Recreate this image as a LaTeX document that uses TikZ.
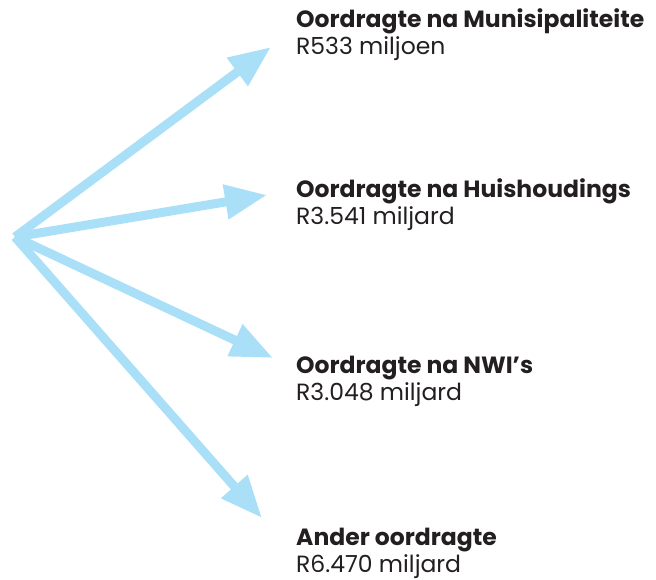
\documentclass[tikz,border=0pt]{standalone}
\usepackage{fontspec}
\setmainfont{Poppins}
\usetikzlibrary{arrows.meta}
\definecolor{arrowblue}{HTML}{AADFF8}
\definecolor{textdark}{HTML}{231F20}
\tikzset{
  flow/.style={draw=arrowblue, line width=9pt, -{Triangle[length=42pt,width=33pt]}},
  title/.style={anchor=base west, inner sep=0pt, text=textdark, font=\fontsize{23.5}{27}\selectfont\bfseries},
  value/.style={anchor=base west, inner sep=0pt, text=textdark, font=\fontsize{23.5}{27}\selectfont},
}
\begin{document}
\begin{tikzpicture}[x=1pt,y=-1pt]
\useasboundingbox (0,0) rectangle (656,580);
\coordinate (o) at (15,237);
\coordinate (t1) at (271,47);
\coordinate (t2) at (267,195);
\coordinate (t3) at (273,358);
\coordinate (t4) at (262,518);
\draw[flow] (o) -- (t1);
\draw[flow] (o) -- (t2);
\draw[flow] (o) -- (t3);
\draw[flow] (o) -- (t4);
\node[title] (h1) at (296,28) {Oordragte na Munisipaliteite};
\node[value] (v1) at (296,55) {R533 miljoen};
\node[title] (h2) at (296,198) {Oordragte na Huishoudings};
\node[value] (v2) at (296,225) {R3.541 miljard};
\node[title] (h3) at (296,373) {Oordragte na NWI’s};
\node[value] (v3) at (296,400) {R3.048 miljard};
\node[title] (h4) at (296,545) {Ander oordragte};
\node[value] (v4) at (296,572) {R6.470 miljard};
\end{tikzpicture}
\end{document}
